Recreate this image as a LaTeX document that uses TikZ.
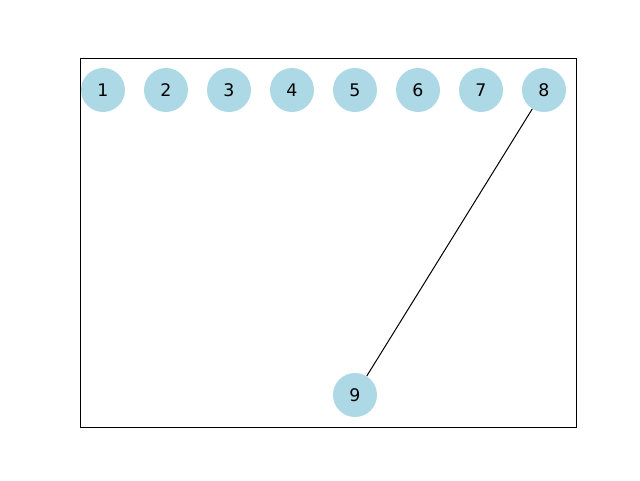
\documentclass[tikz,border=0pt]{standalone}
\usepackage{fontspec}
\setmainfont{DejaVu Sans}
\definecolor{lb}{HTML}{ADD8E6}
\begin{document}
\begin{tikzpicture}[x=0.75pt,y=-0.75pt,
  vert/.style={circle,fill=lb,minimum size=44*0.75pt,inner sep=0pt,font=\fontsize{13}{15}\selectfont},
  edge/.style={draw=black,line width=0.75pt}]
\useasboundingbox (0,0) rectangle (640,480);
\draw[line width=0.6pt] (80,58) rectangle (576,427);
\node[vert] (n1) at (103,90) {1};
\node[vert] (n2) at (166,90) {2};
\node[vert] (n3) at (229,90) {3};
\node[vert] (n4) at (292,90) {4};
\node[vert] (n5) at (355,90) {5};
\node[vert] (n6) at (418,90) {6};
\node[vert] (n7) at (481,90) {7};
\node[vert] (n8) at (544,90) {8};
\node[vert] (n9) at (355,395) {9};
\draw[edge] (n8) -- (n9);
\end{tikzpicture}
\end{document}
